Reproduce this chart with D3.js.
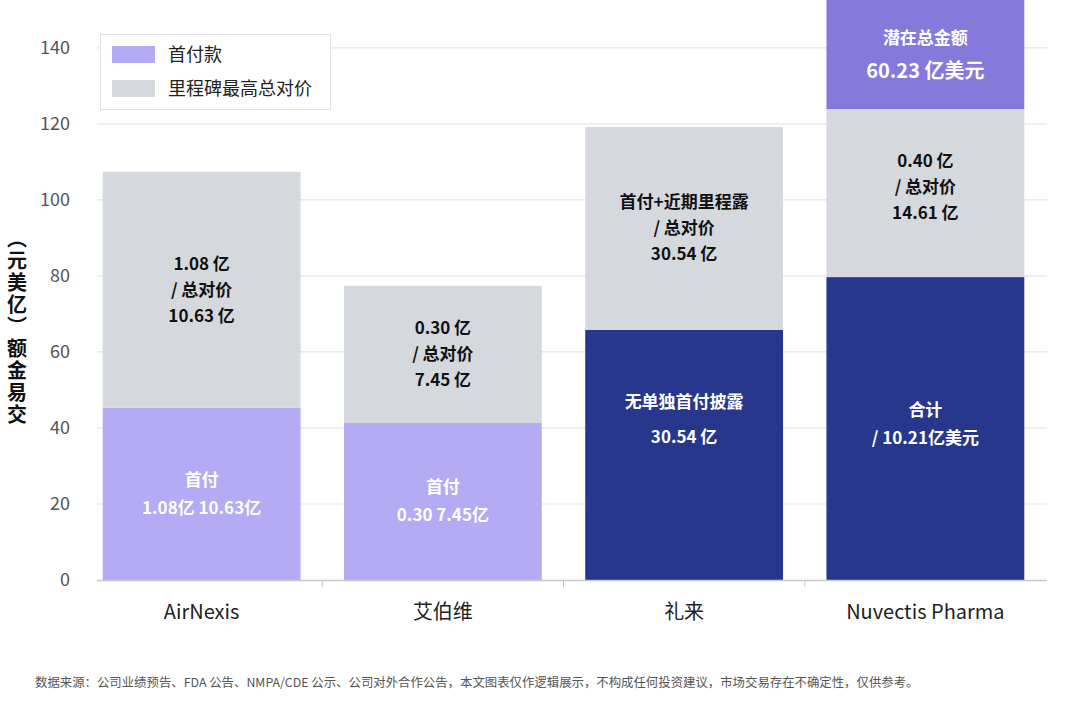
<!DOCTYPE html>
<html>
<head>
<meta charset="utf-8">
<script src="https://cdn.jsdelivr.net/npm/d3@7"></script>
<style>
  body { margin: 0; background: #fff; }
  svg { font-family: "Noto Sans CJK SC", "Noto Sans", sans-serif; }
</style>
</head>
<body>
<div id="chart"></div>
<script>
// data (亿美元)
const categories = ["AirNexis", "艾伯维", "礼来", "Nuvectis Pharma"];
const upfront = [45.3, 41.3, 65.8, 79.7];     // 首付 / 下段
const milestone = [62.1, 36.1, 53.4, 44.2];   // 里程碑最高总对价 / 中段
const potential = [0, 0, 0, 32];              // 潜在总金额 / 顶段 (clipped)
const yTicks = [0, 20, 40, 60, 80, 100, 120, 140];

const lowerLabels = [
  ["首付", "1.08亿 10.63亿"],
  ["首付", "0.30 7.45亿"],
  ["无单独首付披露", "30.54 亿"],
  ["合计", "/ 10.21亿美元"]
];
const midLabels = [
  ["1.08 亿", "/ 总对价", "10.63 亿"],
  ["0.30 亿", "/ 总对价", "7.45 亿"],
  ["首付+近期里程露", "/ 总对价", "30.54 亿"],
  ["0.40 亿", "/ 总对价", "14.61 亿"]
];
const topLabels = [null, null, null, ["潜在总金额", "60.23 亿美元"]];

const W = 1080, H = 706;
const MARGIN = { TOP: 0, BOTTOM: 126, LEFT: 81, RIGHT: 34 };

const LIGHT = "#b5aaf4", NAVY = "#27378c", GRAY = "#d5d9de", MID = "#8579dc";
const lowerColor = [LIGHT, LIGHT, NAVY, NAVY];

const svg = d3.select("#chart").append("svg")
  .attr("width", W).attr("height", H);

const x = d3.scaleBand()
  .domain(categories)
  .range([MARGIN.LEFT, W - MARGIN.RIGHT])
  .paddingInner(0.18)
  .paddingOuter(0.09);

const y = d3.scaleLinear()
  .domain([0, 152.6])
  .range([H - MARGIN.BOTTOM, MARGIN.TOP]);

// gridlines
svg.append("g")
  .selectAll("line")
  .data(yTicks.slice(1))
  .join("line")
  .attr("x1", 97).attr("x2", 1047)
  .attr("y1", d => y(d)).attr("y2", d => y(d))
  .attr("stroke", "#e6e6e6").attr("stroke-width", 1.2);

// y tick labels
svg.append("g")
  .selectAll("text")
  .data(yTicks)
  .join("text")
  .attr("x", 70).attr("y", d => y(d))
  .attr("dy", "0.35em")
  .attr("text-anchor", "end")
  .attr("font-size", 18)
  .attr("fill", "#555")
  .text(d => d);

// stacked bars
const rows = categories.map((c, i) => ({ cat: c, lower: upfront[i], mid: milestone[i], top: potential[i] }));
const stack = d3.stack().keys(["lower", "mid", "top"])(rows);

svg.append("defs").append("clipPath").attr("id", "plot")
  .append("rect").attr("x", 0).attr("y", 0).attr("width", W).attr("height", y(0));

const segColor = (key, i) => key === "lower" ? lowerColor[i] : key === "mid" ? GRAY : MID;

svg.append("g").attr("clip-path", "url(#plot)")
  .selectAll("g")
  .data(stack)
  .join("g")
  .selectAll("rect")
  .data(s => s.map((d, i) => ({ key: s.key, i, y0: d[0], y1: d[1] })))
  .join("rect")
  .attr("x", d => x(categories[d.i]))
  .attr("width", x.bandwidth())
  .attr("y", d => y(d.y1))
  .attr("height", d => y(d.y0) - y(d.y1))
  .attr("fill", d => segColor(d.key, d.i));

// x axis
const xAxis = svg.append("g");
xAxis.append("line")
  .attr("x1", 97).attr("x2", 1047)
  .attr("y1", y(0) + 0.5).attr("y2", y(0) + 0.5)
  .attr("stroke", "#c8c8c8").attr("stroke-width", 1.5);
xAxis.selectAll(".sep")
  .data(categories.slice(1))
  .join("line")
  .attr("x1", d => x(d) - x.step() * x.paddingInner() / 2)
  .attr("x2", d => x(d) - x.step() * x.paddingInner() / 2)
  .attr("y1", y(0)).attr("y2", y(0) + 7)
  .attr("stroke", "#c8c8c8");
xAxis.selectAll(".lab")
  .data(categories)
  .join("text")
  .attr("x", d => x(d) + x.bandwidth() / 2)
  .attr("y", 619)
  .attr("text-anchor", "middle")
  .attr("font-size", 20)
  .attr("fill", "#222")
  .text(d => d);

// in-bar labels
function block(lines, cx, cy, lh, color, sizes) {
  const g = svg.append("g");
  const n = lines.length;
  lines.forEach((t, k) => {
    g.append("text")
      .attr("x", cx)
      .attr("y", cy + (k - (n - 1) / 2) * lh)
      .attr("dy", "0.35em")
      .attr("text-anchor", "middle")
      .attr("font-size", sizes ? sizes[k] : 17)
      .attr("font-weight", 700)
      .attr("fill", color)
      .text(t);
  });
}

categories.forEach((c, i) => {
  const cx = x(c) + x.bandwidth() / 2;
  const lowMid = (y(0) + y(upfront[i])) / 2;
  const spread = i === 2 ? 35 : 28;
  const lift = i === 2 ? -35 : i === 3 ? -4 : 0;
  block(lowerLabels[i], cx, lowMid + lift, spread, "#fff");
  const midTop = y(upfront[i] + milestone[i]);
  const midMid = (y(upfront[i]) + midTop) / 2 - (i === 3 ? 6 : 0);
  block(midLabels[i], cx, midMid, 26, "#111");
  if (topLabels[i]) {
    block(topLabels[i], cx, Math.max(0, y(upfront[i] + milestone[i] + potential[i])) / 2 + midTop / 2, 32, "#fff", [17, 20]);
  }
});

// legend
const lg = svg.append("g");
lg.append("rect")
  .attr("x", 100.5).attr("y", 34.5).attr("width", 230).attr("height", 75)
  .attr("fill", "#fff").attr("stroke", "#e2e2e2");
[["首付款", LIGHT], ["里程碑最高总对价", GRAY]].forEach(([t, col], k) => {
  lg.append("rect").attr("x", 112).attr("y", 46 + k * 34).attr("width", 43).attr("height", 17).attr("fill", col);
  lg.append("text").attr("x", 168).attr("y", 55 + k * 34).attr("dy", "0.35em")
    .attr("font-size", 18).attr("fill", "#222").text(t);
});

// y axis title (vertical, upright characters)
svg.append("text")
  .attr("x", 17).attr("y", 228)
  .attr("font-size", 20).attr("font-weight", 700).attr("fill", "#111")
  .style("writing-mode", "vertical-rl")
  .style("letter-spacing", "2px")
  .text("（元美亿）额金易交");

// footer
svg.append("text")
  .attr("x", 35).attr("y", 687)
  .attr("font-size", 12.4).attr("fill", "#555")
  .text("数据来源：公司业绩预告、FDA 公告、NMPA/CDE 公示、公司对外合作公告，本文图表仅作逻辑展示，不构成任何投资建议，市场交易存在不确定性，仅供参考。");
</script>
</body>
</html>
